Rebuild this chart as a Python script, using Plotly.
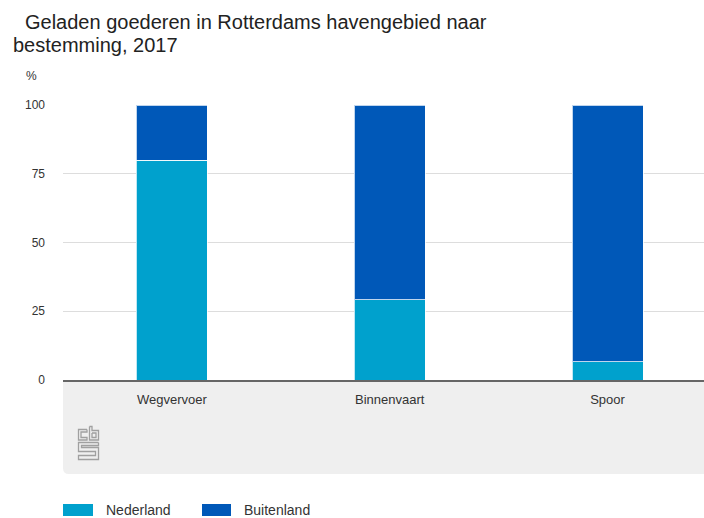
import plotly.graph_objects as go

categories = ["Wegvervoer", "Binnenvaart", "Spoor"]
nederland = [80.0, 29.2, 6.6]
buitenland = [20.0, 70.8, 93.4]
y_ticks = [0, 25, 50, 75, 100]

W, H = 704, 518
L, R, T, B = 63, 0, 105, 138
PW = W - L - R
PH = H - T - B


def px(x):
    return (x - L) / PW


def py(y):
    return (H - B - y) / PH


C_NL = "#00a1cd"
C_BU = "#0058b8"
TXT = "#333333"
FONT = "Liberation Sans, Arial, sans-serif"

fig = go.Figure()
fig.add_trace(go.Bar(x=categories, y=nederland, name="Nederland", marker_color=C_NL,
                     marker_line=dict(color="rgba(255,255,255,0.75)", width=1), width=0.326))
fig.add_trace(go.Bar(x=categories, y=buitenland, name="Buitenland", marker_color=C_BU,
                     marker_line=dict(color="rgba(255,255,255,0.75)", width=1), width=0.326))

shapes = []
# grey footer area with rounded bottom-left corner
x0, x1, y0, y1, r = px(63), px(720), py(381), py(474), 6
rx, ry = r / PW, r / PH
shapes.append(dict(type="path", xref="paper", yref="paper", layer="below",
                   path=f"M {x0},{y0} L {x1},{y0} L {x1},{y1} L {x0+rx},{y1} Q {x0},{y1} {x0},{y1+ry} Z",
                   fillcolor="#efefef", line=dict(width=0)))

# CBS logo (outline)
def poly(points):
    return "M " + " L ".join(f"{px(a)},{py(b)}" for a, b in points)

logo_col = "#a0a0a0"
logo_paths = [
    # c
    [(87, 429.5), (78.5, 429.5), (78.5, 440), (87, 440), (87, 437.5), (81, 437.5), (81, 432), (87, 432), (87, 429.5)],
    # b
    [(89.5, 426.5), (92, 426.5), (92, 430.5), (98.5, 430.5), (98.5, 440), (89.5, 440), (89.5, 426.5)],
    [(92, 433), (96, 433), (96, 437.5), (92, 437.5), (92, 433)],
    # S
    [(98.5, 442.5), (78.5, 442.5), (78.5, 451.5), (95.5, 451.5), (95.5, 455.5), (78.5, 455.5), (78.5, 459.5),
     (98.5, 459.5), (98.5, 447.5), (81.5, 447.5), (81.5, 445.5), (98.5, 445.5), (98.5, 442.5)],
]
for p in logo_paths:
    shapes.append(dict(type="path", xref="paper", yref="paper", path=poly(p),
                       line=dict(color=logo_col, width=1.3)))

# custom legend swatches
for xs, col in [((63, 93), C_NL), ((202, 231), C_BU)]:
    shapes.append(dict(type="rect", xref="paper", yref="paper",
                       x0=px(xs[0]), x1=px(xs[1]), y0=py(504), y1=py(516),
                       fillcolor=col, line=dict(width=0)))

annotations = [
    dict(text="Geladen goederen in Rotterdams havengebied naar", x=px(23), y=py(22),
         xanchor="left", yanchor="middle", showarrow=False, xref="paper", yref="paper",
         font=dict(size=20, color="#222222", family=FONT)),
    dict(text="bestemming, 2017", x=px(11), y=py(45),
         xanchor="left", yanchor="middle", showarrow=False, xref="paper", yref="paper",
         font=dict(size=20, color="#222222", family=FONT)),
    dict(text="%", x=px(24), y=py(76), xanchor="left", yanchor="middle", showarrow=False,
         xref="paper", yref="paper", font=dict(size=12, color=TXT, family=FONT)),
    dict(text="Nederland", x=px(104), y=py(510), xanchor="left", yanchor="middle", showarrow=False,
         xref="paper", yref="paper", font=dict(size=14, color=TXT, family=FONT)),
    dict(text="Buitenland", x=px(242), y=py(510), xanchor="left", yanchor="middle", showarrow=False,
         xref="paper", yref="paper", font=dict(size=14, color=TXT, family=FONT)),
]

fig.update_layout(
    width=W, height=H,
    margin=dict(l=L, r=R, t=T, b=B, pad=0),
    barmode="stack",
    bargap=0.674,
    showlegend=False,
    plot_bgcolor="white",
    paper_bgcolor="white",
    font=dict(family=FONT, color=TXT, size=12),
    shapes=shapes,
    annotations=annotations,
    xaxis=dict(range=[-0.5, 2.443], showgrid=False, showline=True, linecolor="#666666", linewidth=2,
               ticks="", tickfont=dict(size=13, color=TXT), fixedrange=True, ticklabelstandoff=6),
    yaxis=dict(range=[0, 100], tickvals=y_ticks, showgrid=True, gridcolor="#dddddd", gridwidth=1,
               zeroline=False, showline=False, ticks="", tickfont=dict(size=12, color=TXT),
               ticklabelstandoff=17, fixedrange=True),
)

fig.write_html("out.html", config={"displayModeBar": False},
               post_script="document.body.style.margin='0';document.body.style.overflow='hidden';")
